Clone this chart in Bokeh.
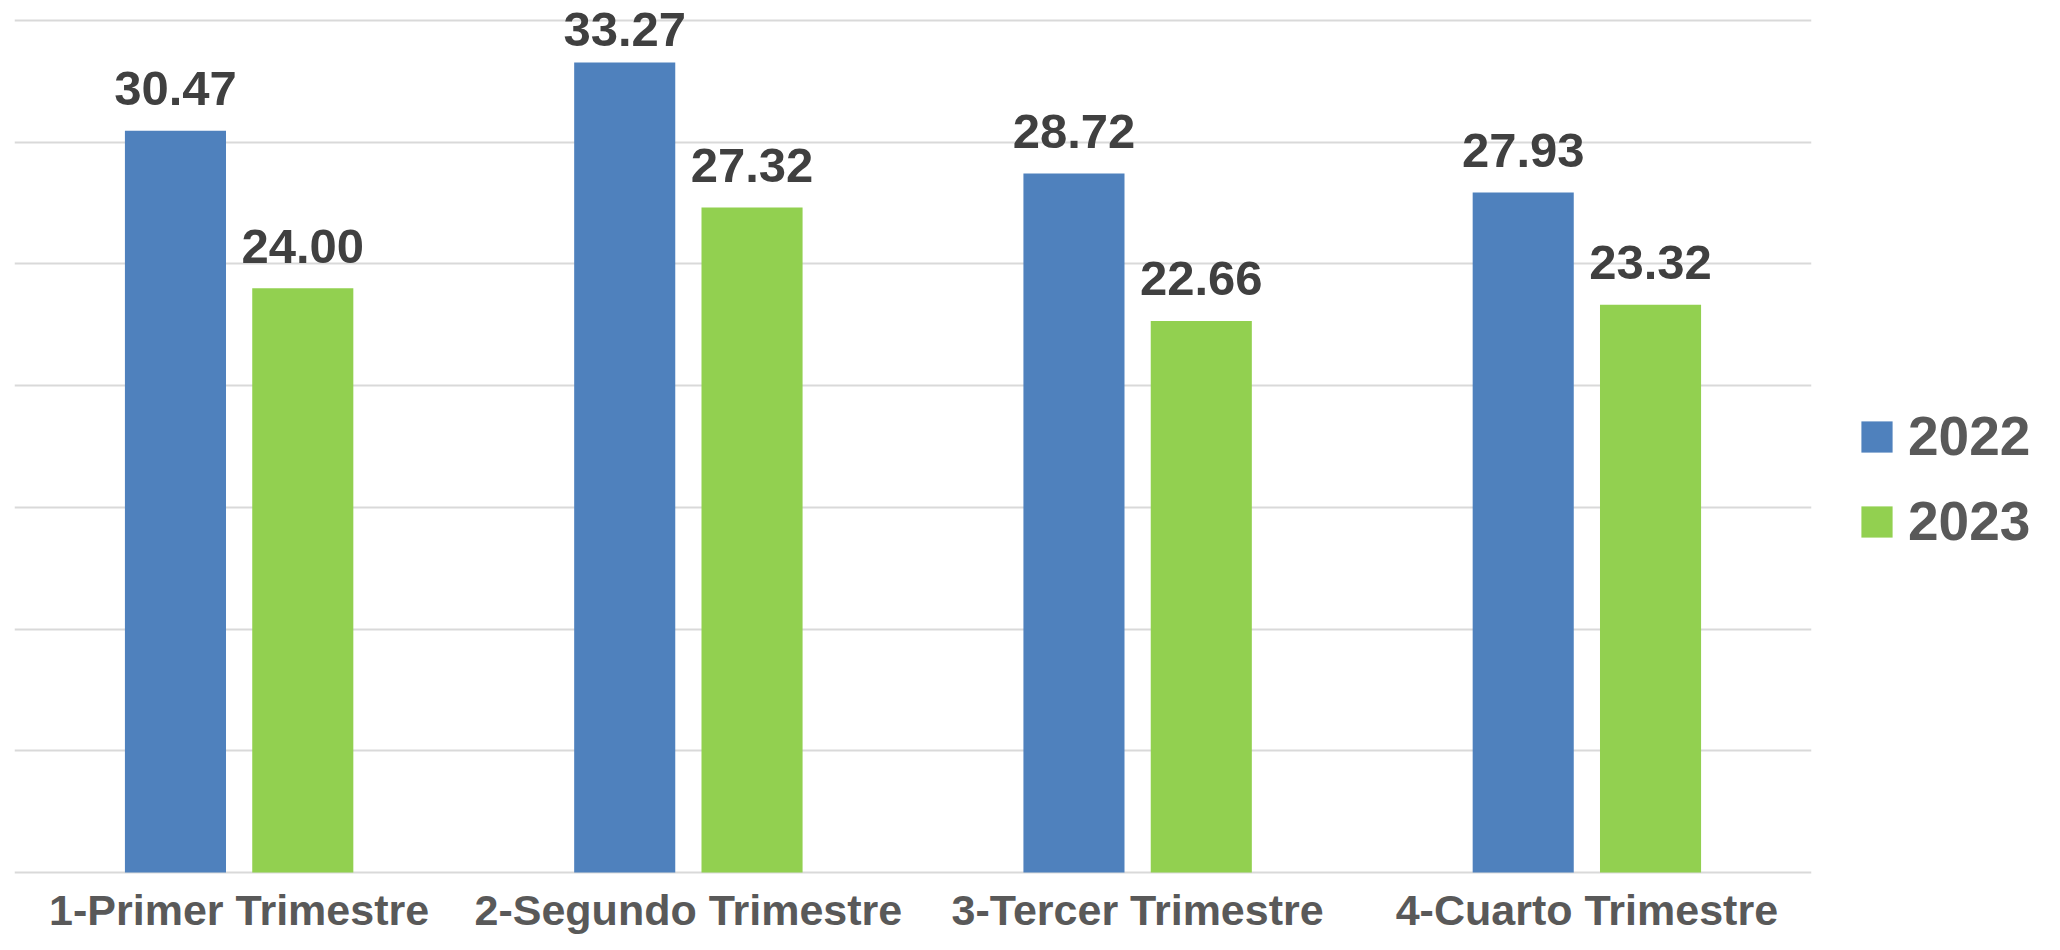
from bokeh.plotting import figure
from bokeh.layouts import row
from bokeh.models import (FactorRange, Range1d, SingleIntervalTicker, Legend, LegendItem,
                          ColumnDataSource)
from bokeh.transform import dodge
from bokeh.core.properties import value
from bokeh.embed import file_html
from bokeh.resources import INLINE

quarters = ["1-Primer Trimestre", "2-Segundo Trimestre", "3-Tercer Trimestre", "4-Cuarto Trimestre"]
v2022 = [30.47, 33.27, 28.72, 27.93]
v2023 = [24.00, 27.32, 22.66, 23.32]
series_names = ["2022", "2023"]
colors = ["#4F81BD", "#92D050"]

Y_MAX = 35  # top gridline

def label_offsets(vals):
    # data labels float ~24px above the bar; the tallest is nudged down to stay on the chart
    return [-33 if v > 33 else -42 for v in vals]

src = ColumnDataSource(dict(
    q=quarters, v2022=v2022, v2023=v2023,
    l2022=[f"{v:.2f}" for v in v2022], l2023=[f"{v:.2f}" for v in v2023],
    o2022=label_offsets(v2022), o2023=label_offsets(v2023),
    base=[0] * len(quarters),
))

W, H = 2044, 934
W1 = 1830
p = figure(x_range=FactorRange(*quarters, range_padding=0), y_range=Range1d(-2.547, Y_MAX + 0.822),
           width=W1, height=H, output_backend="svg", toolbar_location=None,
           min_border_left=14, min_border_right=19, min_border_top=0, min_border_bottom=0)
p.outline_line_color = None
p.background_fill_color = "white"
p.border_fill_color = "white"

off = 0.1417
bw = 0.225
r1 = p.vbar(x=dodge("q", -off, range=p.x_range), top="v2022", width=bw, source=src,
            fill_color=colors[0], line_color=None)
r2 = p.vbar(x=dodge("q", off, range=p.x_range), top="v2023", width=bw, source=src,
            fill_color=colors[1], line_color=None)

for xo, col, vcol, ocol in [(-off, "l2022", "v2022", "o2022"), (off, "l2023", "v2023", "o2023")]:
    p.text(x=dodge("q", xo, range=p.x_range), y=vcol, text=col, source=src,
           text_align="center", text_baseline="alphabetic", y_offset=ocol,
           text_font=value("Liberation Sans"), text_font_style="bold",
           text_font_size="49px", text_color="#404040")

# category labels below the baseline
p.text(x="q", y="base", text="q", source=src,
       text_align="center", text_baseline="alphabetic", y_offset=38,
       text_font=value("Liberation Sans"), text_font_style="bold",
       text_font_size="43px", text_color="#595959")

p.xaxis.visible = False
p.yaxis.visible = False
p.yaxis.ticker = SingleIntervalTicker(interval=5)
p.ygrid.ticker = SingleIntervalTicker(interval=5)
p.ygrid.grid_line_color = "#D9D9D9"
p.ygrid.grid_line_width = 2
p.xgrid.grid_line_color = None

# legend panel (its swatch renderers sit outside the visible range)
p2 = figure(width=W - W1, height=H, output_backend="svg", toolbar_location=None,
            x_range=Range1d(0, 1), y_range=Range1d(0, 1),
            min_border_left=0, min_border_right=0, min_border_top=0, min_border_bottom=0)
p2.outline_line_color = None
p2.axis.visible = False
p2.grid.visible = False
d1 = p2.vbar(x=[-5], top=[-5], bottom=[-6], width=0.1, fill_color=colors[0], line_color=None)
d2 = p2.vbar(x=[-5], top=[-5], bottom=[-6], width=0.1, fill_color=colors[1], line_color=None)

legend = Legend(items=[LegendItem(label=series_names[0], renderers=[d1]),
                       LegendItem(label=series_names[1], renderers=[d2])],
                location=(27, 381), orientation="vertical",
                border_line_color=None, background_fill_alpha=0,
                glyph_width=39, glyph_height=39, label_standoff=12, spacing=21,
                label_text_font="Liberation Sans", label_text_font_style="bold",
                label_text_font_size="55px", label_text_color="#595959",
                margin=0, padding=0)
p2.add_layout(legend, "center")

layout = row(p, p2, spacing=0)
open("out.html", "w").write(file_html(layout, INLINE))
